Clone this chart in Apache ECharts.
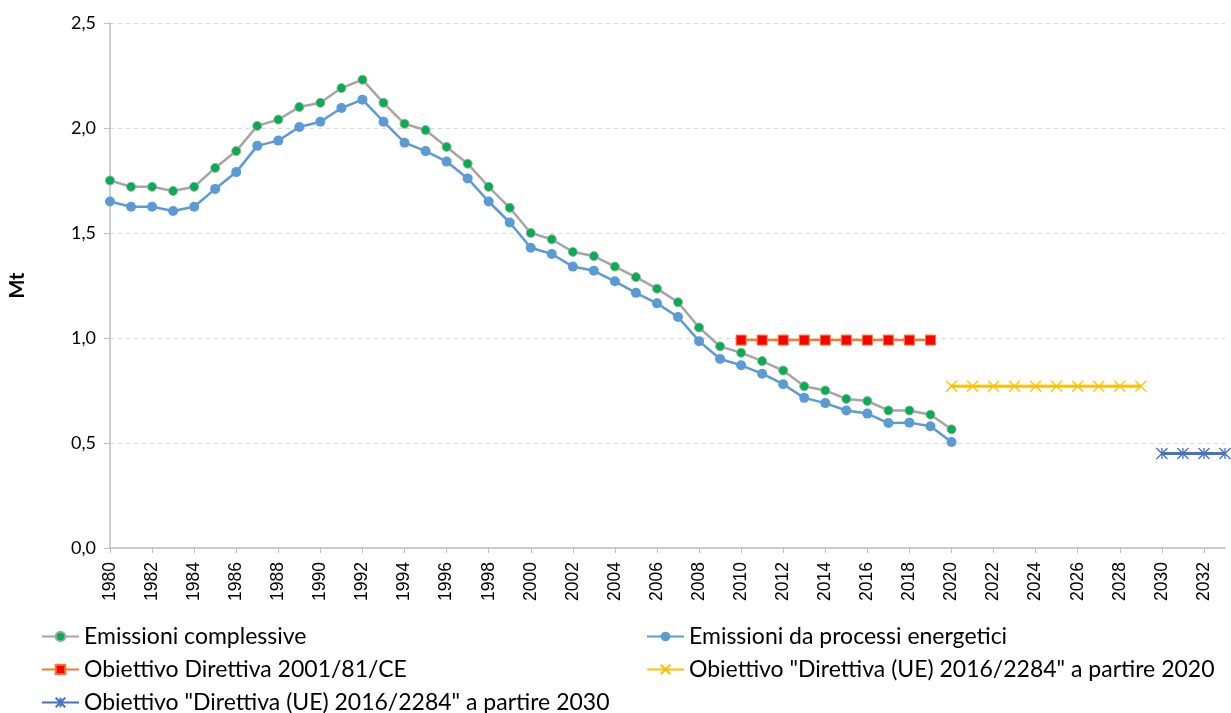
<!DOCTYPE html>
<html>
<head>
<meta charset="utf-8">
<script src="https://cdn.jsdelivr.net/npm/echarts@6/dist/echarts.min.js"></script>
<style>
  html, body { margin: 0; padding: 0; background: #fff; }
  #chart { width: 1231px; height: 713px; }
</style>
</head>
<body>
<div id="chart"></div>
<script>
// anni sull'asse x
var years = [];
for (var y = 1980; y <= 2033; y++) years.push(String(y));

// Emissioni complessive (Mt) 1980-2020
var complessive = [1.75, 1.72, 1.72, 1.70, 1.72, 1.81, 1.89, 2.01, 2.04, 2.10,
  2.12, 2.19, 2.23, 2.12, 2.02, 1.99, 1.91, 1.83, 1.72, 1.62,
  1.50, 1.47, 1.41, 1.39, 1.34, 1.29, 1.235, 1.17, 1.05, 0.96,
  0.93, 0.89, 0.845, 0.77, 0.75, 0.71, 0.70, 0.655, 0.655, 0.635,
  0.565];

// Emissioni da processi energetici (Mt) 1980-2020
var energetici = [1.65, 1.625, 1.625, 1.605, 1.625, 1.71, 1.79, 1.915, 1.94, 2.005,
  2.03, 2.095, 2.135, 2.03, 1.93, 1.89, 1.84, 1.76, 1.65, 1.55,
  1.43, 1.40, 1.34, 1.32, 1.27, 1.215, 1.165, 1.10, 0.985, 0.90,
  0.87, 0.83, 0.78, 0.715, 0.69, 0.655, 0.64, 0.595, 0.597, 0.58,
  0.505];

// obiettivi
var obiettivo2001 = 0.99;   // 2010-2019
var obiettivo2020 = 0.77;   // 2020-2029
var obiettivo2030 = 0.45;   // 2030-2033

var nomi = ['Emissioni complessive', 'Emissioni da processi energetici',
  'Obiettivo Direttiva 2001/81/CE', 'Obiettivo "Direttiva (UE) 2016/2284" a partire 2020',
  'Obiettivo "Direttiva (UE) 2016/2284" a partire 2030'];

function pad(arr) {
  var out = arr.slice();
  while (out.length < years.length) out.push('-');
  return out;
}
function target(value, from, to) {
  return years.map(function (y) {
    var n = +y;
    return (n >= from && n <= to) ? value : '-';
  });
}

var chart = echarts.init(document.getElementById('chart'));
var labelFont = 'Lato, "Open Sans", sans-serif';

// legenda su due colonne, una voce per componente
var legendPos = [[41, 625], [646, 625], [41, 658], [646, 658], [41, 691]];
var legends = nomi.map(function (n, i) {
  return {
    data: [n], left: legendPos[i][0], top: legendPos[i][1], padding: 0,
    itemWidth: 37, itemHeight: 12,
    textStyle: { fontFamily: labelFont, fontSize: 23, color: '#000', lineHeight: 22 }
  };
});

chart.setOption({
  animation: false,
  grid: { left: 110, right: 6, top: 23, bottom: 165 },
  legend: legends,
  xAxis: {
    type: 'category',
    boundaryGap: false,
    data: years,
    axisLine: { lineStyle: { color: '#BFBFBF', width: 1.5 } },
    axisTick: { interval: 1, length: 5, lineStyle: { color: '#BFBFBF' } },
    axisLabel: {
      interval: 1, rotate: 90, margin: 14,
      fontFamily: '"Liberation Sans", Arial, sans-serif', fontSize: 17.5, color: '#000'
    },
    splitLine: { show: false }
  },
  yAxis: {
    type: 'value',
    min: 0, max: 2.5, interval: 0.5,
    name: 'Mt',
    nameLocation: 'middle',
    nameGap: 82,
    nameTextStyle: { fontFamily: labelFont, fontSize: 20, fontWeight: 'bold', color: '#000' },
    axisLine: { show: true, lineStyle: { color: '#BFBFBF', width: 1.5 } },
    axisTick: { show: true, length: 6, lineStyle: { color: '#BFBFBF' } },
    axisLabel: {
      margin: 14,
      fontFamily: labelFont, fontSize: 18, color: '#000',
      formatter: function (v) { return v.toFixed(1).replace('.', ','); }
    },
    splitLine: { lineStyle: { color: '#D9D9D9', type: [4, 4] } }
  },
  series: [{
    name: nomi[0],
    type: 'line',
    data: pad(complessive),
    symbol: 'circle', symbolSize: 9,
    lineStyle: { color: '#A5A5A5', width: 2.5 },
    itemStyle: { color: '#00B050', borderColor: '#A5A5A5', borderWidth: 1 },
    z: 3
  }, {
    name: nomi[1],
    type: 'line',
    data: pad(energetici),
    symbol: 'circle', symbolSize: 10,
    lineStyle: { color: '#5B9BD5', width: 2.5 },
    itemStyle: { color: '#5B9BD5' },
    z: 2
  }, {
    name: nomi[2],
    type: 'line',
    data: target(obiettivo2001, 2010, 2019),
    symbol: 'rect', symbolSize: 10,
    lineStyle: { color: '#ED7D31', width: 2.5 },
    itemStyle: { color: '#FF0000', borderColor: '#ED7D31', borderWidth: 1 }
  }, {
    name: nomi[3],
    type: 'line',
    data: target(obiettivo2020, 2020, 2029),
    symbol: 'path://M0,0L10,10M10,0L0,10', symbolSize: 11,
    lineStyle: { color: '#FFC000', width: 3 },
    itemStyle: { color: '#FFC000', borderColor: '#FFC000', borderWidth: 1.3 }
  }, {
    name: nomi[4],
    type: 'line',
    data: target(obiettivo2030, 2030, 2033),
    symbol: 'path://M0,0L10,10M10,0L0,10M5,0L5,10', symbolSize: 11,
    lineStyle: { color: '#4472C4', width: 3 },
    itemStyle: { color: '#4472C4', borderColor: '#4472C4', borderWidth: 1.3 }
  }]
});
</script>
</body>
</html>
